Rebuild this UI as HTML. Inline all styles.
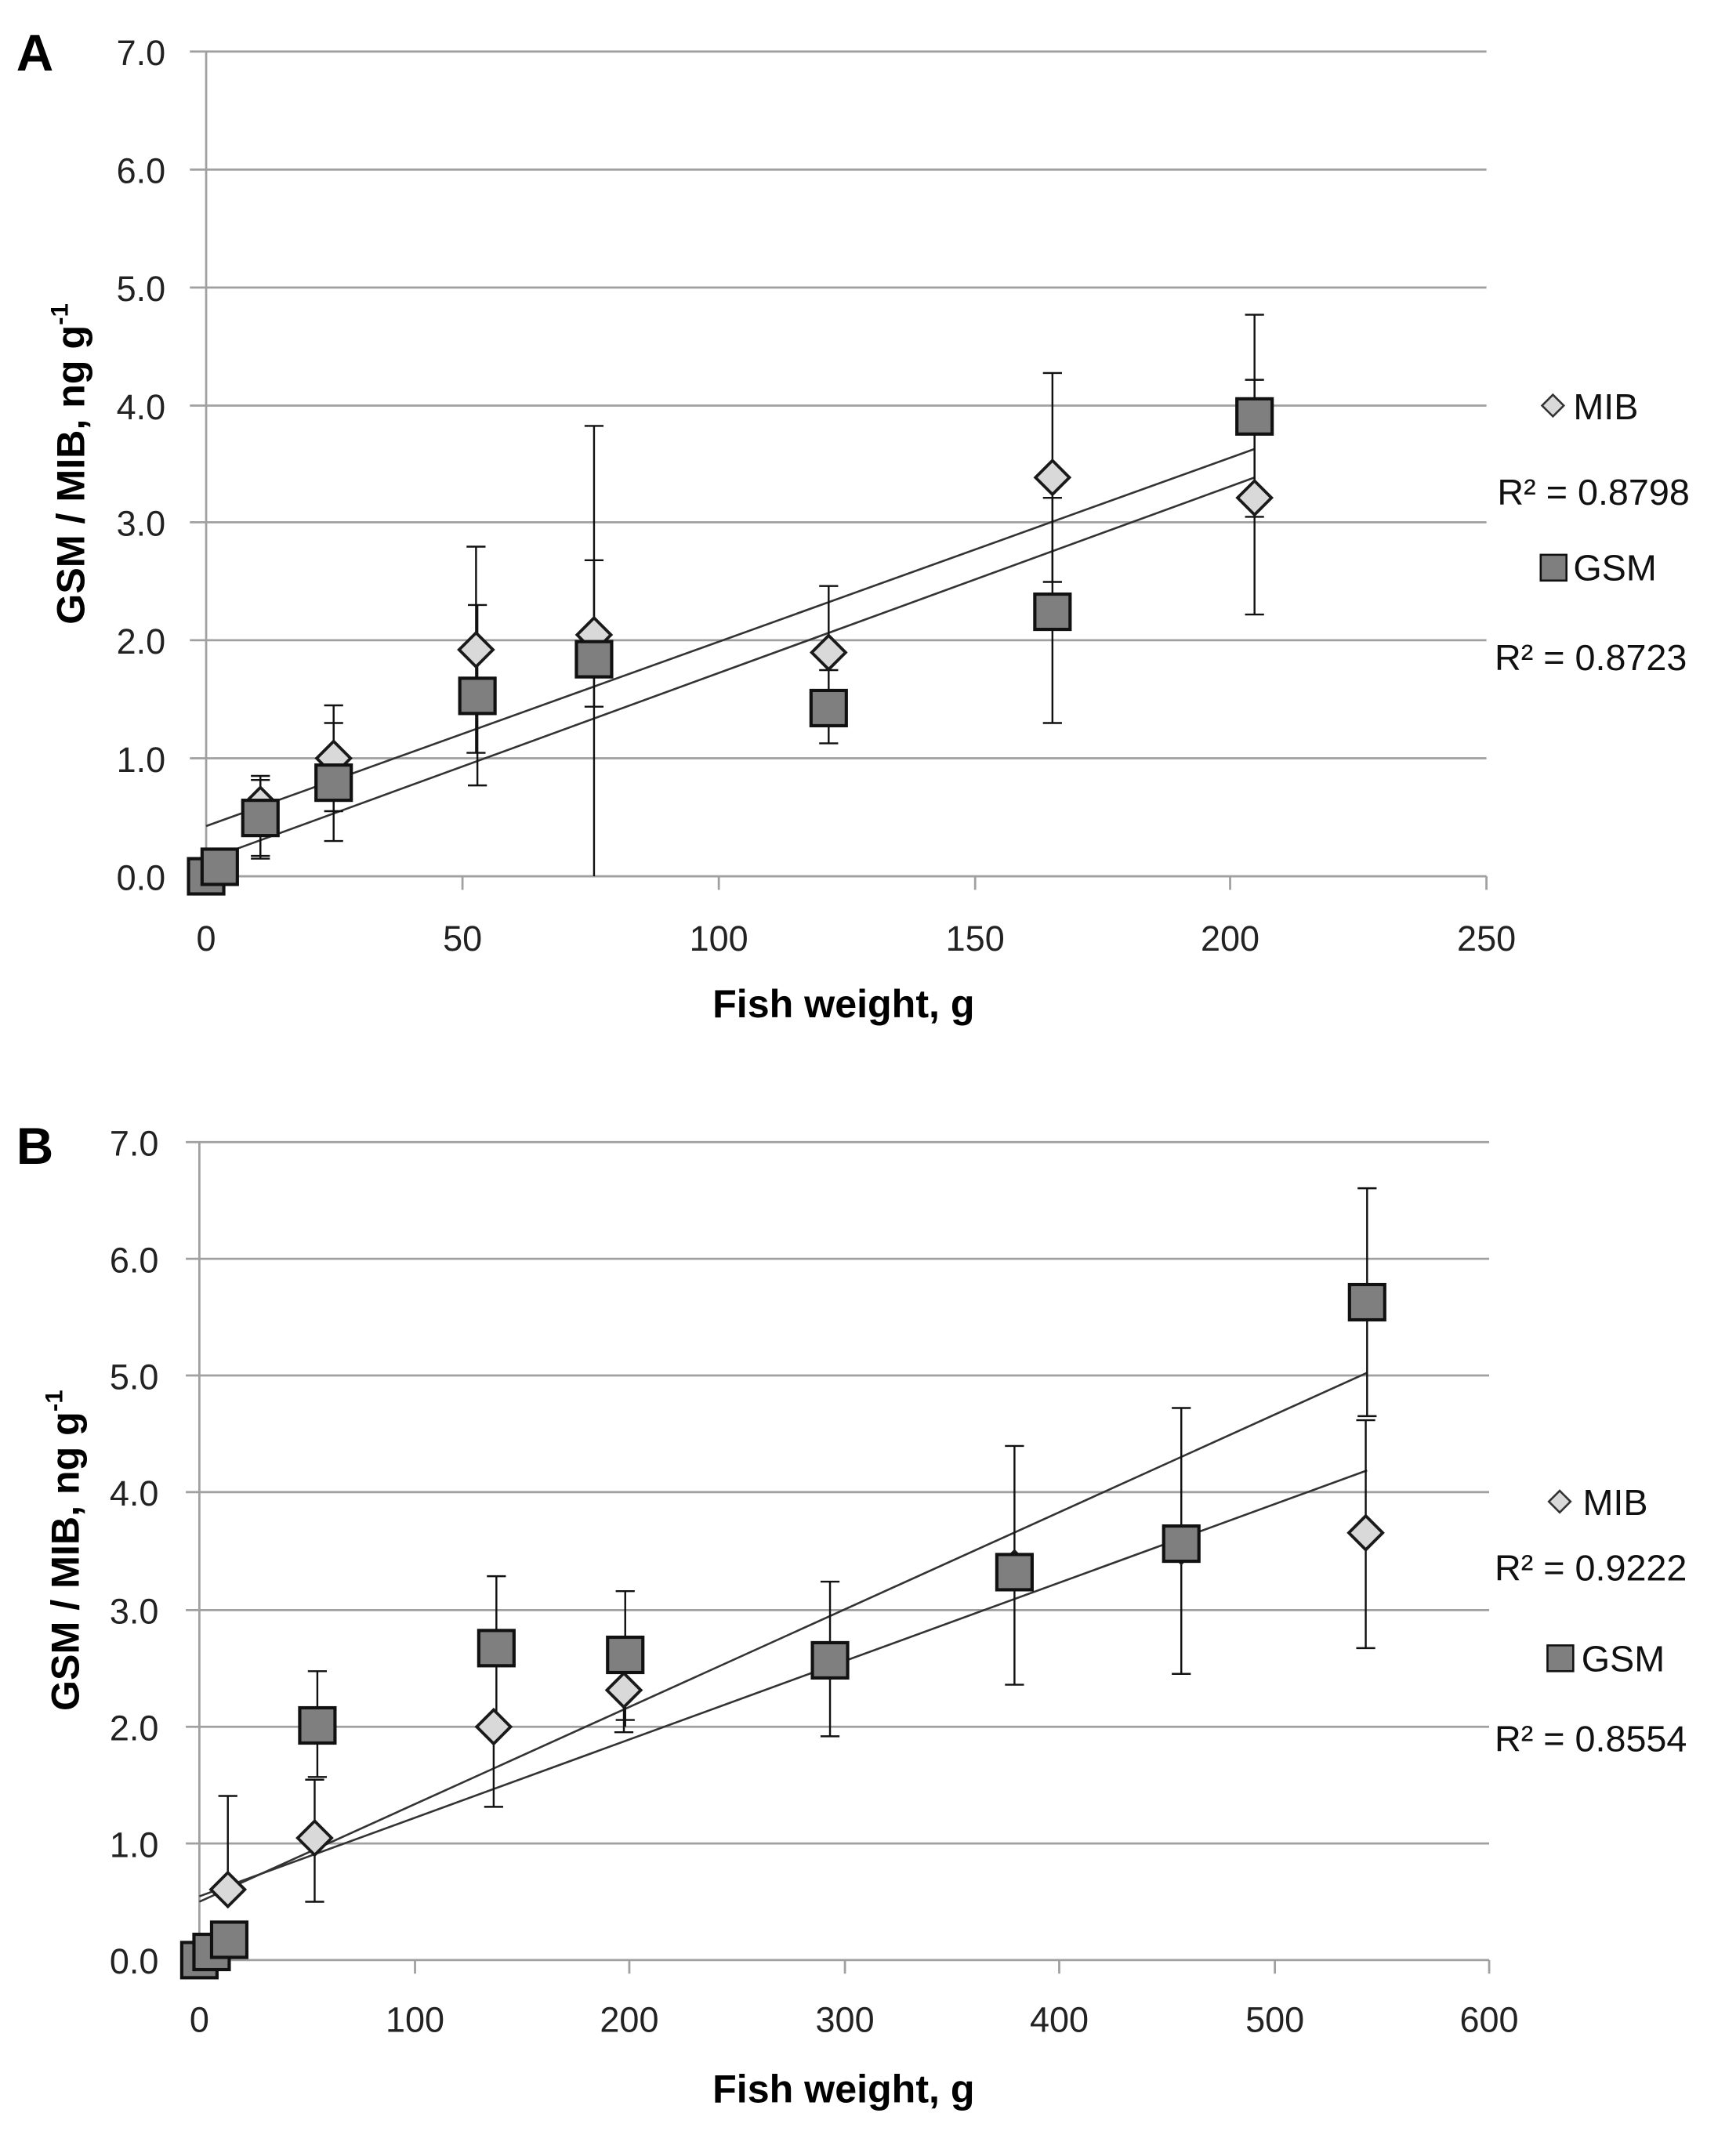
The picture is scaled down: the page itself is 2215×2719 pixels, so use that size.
<!DOCTYPE html>
<html><head><meta charset="utf-8"><style>
html,body{margin:0;padding:0;background:#fff}
svg{display:block}
text{font-family:"Liberation Sans",sans-serif}
</style></head><body>
<svg width="2215" height="2719" viewBox="0 0 1280 1571" preserveAspectRatio="none" xmlns="http://www.w3.org/2000/svg">
<defs>
<g id="d"><polygon points="0,-12.5 12.5,0 0,12.5 -12.5,0" fill="#d9d9d9" stroke="#1a1a1a" stroke-width="2.2"/></g>
<g id="s"><rect x="-13" y="-13" width="26" height="26" fill="#7f7f7f" stroke="#111" stroke-width="2.4"/></g>
</defs>
<!-- Panel A -->
<text x="12" y="52" font-size="38" font-weight="bold">A</text>
<g stroke="#a0a0a0" stroke-width="1.6">
<line x1="140" y1="38" x2="1096" y2="38"/><line x1="140" y1="125" x2="1096" y2="125"/><line x1="140" y1="212" x2="1096" y2="212"/><line x1="140" y1="299" x2="1096" y2="299"/><line x1="140" y1="385" x2="1096" y2="385"/><line x1="140" y1="472" x2="1096" y2="472"/><line x1="140" y1="559" x2="1096" y2="559"/><line x1="140" y1="646" x2="1096" y2="646"/>
<line x1="152" y1="38" x2="152" y2="646"/>
<line x1="152" y1="646" x2="152" y2="656"/><line x1="341" y1="646" x2="341" y2="656"/><line x1="530" y1="646" x2="530" y2="656"/><line x1="719" y1="646" x2="719" y2="656"/><line x1="907" y1="646" x2="907" y2="656"/><line x1="1096" y1="646" x2="1096" y2="656"/>
</g>
<g font-size="26" fill="#222" text-anchor="end">
<text x="122" y="48">7.0</text><text x="122" y="135">6.0</text><text x="122" y="222">5.0</text><text x="122" y="309">4.0</text><text x="122" y="395">3.0</text><text x="122" y="482">2.0</text><text x="122" y="569">1.0</text><text x="122" y="656">0.0</text>
</g>
<g font-size="26" fill="#222" text-anchor="middle">
<text x="152" y="701">0</text><text x="341" y="701">50</text><text x="530" y="701">100</text><text x="719" y="701">150</text><text x="907" y="701">200</text><text x="1096" y="701">250</text>
</g>
<text x="622" y="750" font-size="29" font-weight="bold" text-anchor="middle">Fish weight, g</text>
<text transform="translate(62,342) rotate(-90)" font-size="29" font-weight="bold" text-anchor="middle">GSM / MIB, ng g<tspan font-size="18" dy="-12">-1</tspan></text>
<g stroke="#333" stroke-width="1.5">
<line x1="152" y1="609" x2="925" y2="331"/><line x1="152" y1="634" x2="925" y2="352"/>
</g>
<g stroke="#111" stroke-width="1.4">
<path d="M192 575V631M185 575H199M185 631H199"/>
<path d="M246 520V598M239 520H253M239 598H253"/>
<path d="M351 403V555M344 403H358M344 555H358"/>
<path d="M438 413V521M431 413H445M431 521H445"/>
<path d="M611 432V494M604 432H618M604 494H618"/>
<path d="M776 275V429M769 275H783M769 429H783"/>
<path d="M925 280V453M918 280H932M918 453H932"/>
<path d="M192 572V633M185 572H199M185 633H199"/>
<path d="M246 533V620M239 533H253M239 620H253"/>
<path d="M352 446V579M345 446H359M345 579H359"/>
<path d="M438 314V646M431 314H445"/>
<path d="M611 494V548M604 548H618"/>
<path d="M776 367V533M769 367H783M769 533H783"/>
<path d="M925 232V381M918 232H932M918 381H932"/>
</g>
<use href="#d" x="192" y="593"/><use href="#d" x="246" y="559"/><use href="#d" x="351" y="479"/><use href="#d" x="438" y="468"/><use href="#d" x="611" y="481"/><use href="#d" x="776" y="352"/><use href="#d" x="925" y="367"/>
<use href="#s" x="152" y="646"/><use href="#s" x="162" y="639"/><use href="#s" x="192" y="603"/><use href="#s" x="246" y="577"/><use href="#s" x="352" y="513"/><use href="#s" x="438" y="486"/><use href="#s" x="611" y="522"/><use href="#s" x="776" y="451"/><use href="#s" x="925" y="307"/>
<g font-size="27" fill="#111">
<polygon points="1145,291 1153,299 1145,307 1137,299" fill="#d9d9d9" stroke="#333" stroke-width="1.5"/>
<text x="1160" y="309">MIB</text>
<text x="1104" y="372">R² = 0.8798</text>
<rect x="1136" y="409" width="19" height="19" fill="#7f7f7f" stroke="#111" stroke-width="1.5"/>
<text x="1160" y="428">GSM</text>
<text x="1102" y="494">R² = 0.8723</text>
</g>
<!-- Panel B -->
<text x="12" y="858" font-size="38" font-weight="bold">B</text>
<g stroke="#a0a0a0" stroke-width="1.6">
<line x1="137" y1="842" x2="1098" y2="842"/><line x1="137" y1="928" x2="1098" y2="928"/><line x1="137" y1="1014" x2="1098" y2="1014"/><line x1="137" y1="1100" x2="1098" y2="1100"/><line x1="137" y1="1187" x2="1098" y2="1187"/><line x1="137" y1="1273" x2="1098" y2="1273"/><line x1="137" y1="1359" x2="1098" y2="1359"/><line x1="137" y1="1445" x2="1098" y2="1445"/>
<line x1="147" y1="842" x2="147" y2="1445"/>
<line x1="147" y1="1445" x2="147" y2="1455"/><line x1="306" y1="1445" x2="306" y2="1455"/><line x1="464" y1="1445" x2="464" y2="1455"/><line x1="623" y1="1445" x2="623" y2="1455"/><line x1="781" y1="1445" x2="781" y2="1455"/><line x1="940" y1="1445" x2="940" y2="1455"/><line x1="1098" y1="1445" x2="1098" y2="1455"/>
</g>
<g font-size="26" fill="#222" text-anchor="end">
<text x="117" y="852">7.0</text><text x="117" y="938">6.0</text><text x="117" y="1024">5.0</text><text x="117" y="1110">4.0</text><text x="117" y="1197">3.0</text><text x="117" y="1283">2.0</text><text x="117" y="1369">1.0</text><text x="117" y="1455">0.0</text>
</g>
<g font-size="26" fill="#222" text-anchor="middle">
<text x="147" y="1498">0</text><text x="306" y="1498">100</text><text x="464" y="1498">200</text><text x="623" y="1498">300</text><text x="781" y="1498">400</text><text x="940" y="1498">500</text><text x="1098" y="1498">600</text>
</g>
<text x="622" y="1550" font-size="29" font-weight="bold" text-anchor="middle">Fish weight, g</text>
<text transform="translate(58,1143) rotate(-90)" font-size="29" font-weight="bold" text-anchor="middle">GSM / MIB, ng g<tspan font-size="18" dy="-12">-1</tspan></text>
<g stroke="#333" stroke-width="1.5">
<line x1="147" y1="1402" x2="1008" y2="1012"/><line x1="147" y1="1398" x2="1008" y2="1084"/>
</g>
<g stroke="#111" stroke-width="1.4">
<path d="M168 1324V1400M161 1324H175"/>
<path d="M232 1312V1402M225 1312H239M225 1402H239"/>
<path d="M364 1273V1332M357 1332H371"/>
<path d="M460 1246V1277M453 1277H467"/>
<path d="M1007 1047V1215M1000 1047H1014M1000 1215H1014"/>
<path d="M234 1232V1310M227 1232H241M227 1310H241"/>
<path d="M366 1162V1273M359 1162H373"/>
<path d="M461 1173V1273M454 1173H468M454 1268H468"/>
<path d="M612 1166V1280M605 1166H619M605 1280H619"/>
<path d="M748 1066V1242M741 1066H755M741 1242H755"/>
<path d="M871 1038V1234M864 1038H878M864 1234H878"/>
<path d="M1008 876V1044M1001 876H1015M1001 1044H1015"/>
</g>
<use href="#d" x="168" y="1393"/><use href="#d" x="232" y="1355"/><use href="#d" x="364" y="1273"/><use href="#d" x="460" y="1246"/><use href="#d" x="612" y="1225"/><use href="#d" x="748" y="1156"/><use href="#d" x="871" y="1140"/><use href="#d" x="1007" y="1130"/>
<use href="#s" x="147" y="1445"/><use href="#s" x="156" y="1439"/><use href="#s" x="169" y="1430"/><use href="#s" x="234" y="1272"/><use href="#s" x="366" y="1215"/><use href="#s" x="461" y="1220"/><use href="#s" x="612" y="1224"/><use href="#s" x="748" y="1159"/><use href="#s" x="871" y="1138"/><use href="#s" x="1008" y="960"/>
<g font-size="27" fill="#111">
<polygon points="1150,1099 1158,1107 1150,1115 1142,1107" fill="#d9d9d9" stroke="#333" stroke-width="1.5"/>
<text x="1167" y="1117">MIB</text>
<text x="1102" y="1165">R² = 0.9222</text>
<rect x="1141" y="1213" width="19" height="19" fill="#7f7f7f" stroke="#111" stroke-width="1.5"/>
<text x="1166" y="1232">GSM</text>
<text x="1102" y="1291">R² = 0.8554</text>
</g>
</svg>
</body></html>
